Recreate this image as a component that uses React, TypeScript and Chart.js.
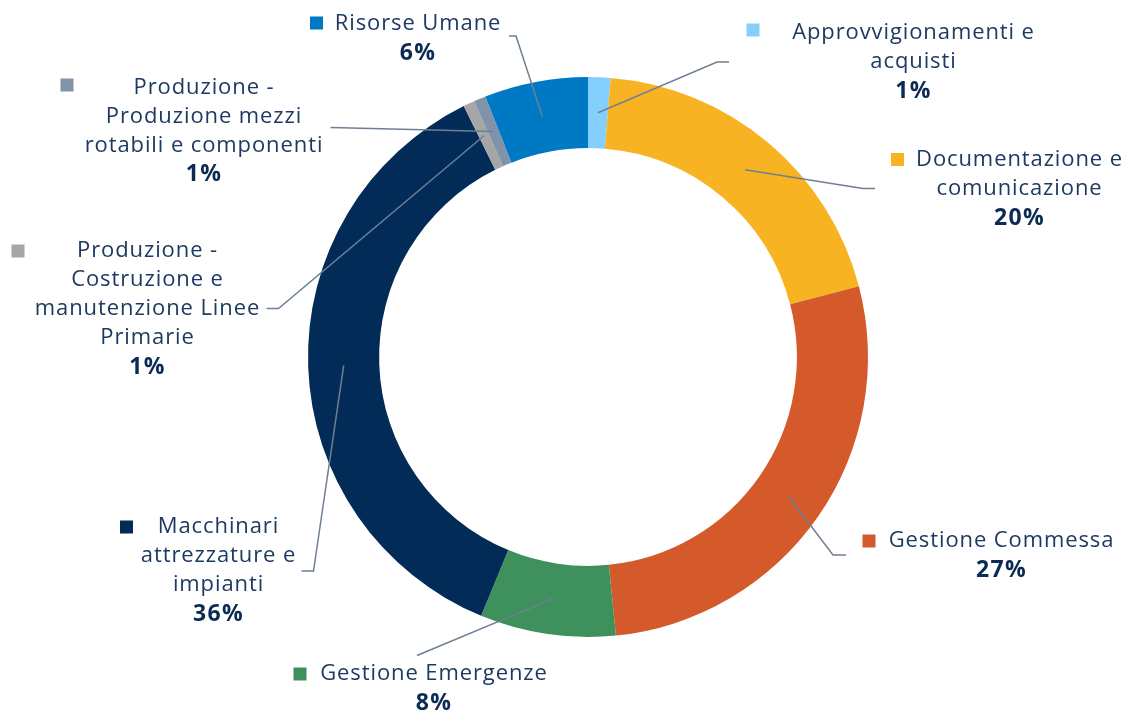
import React, { useEffect, useRef } from 'react';
import { Chart, registerables } from 'chart.js';

Chart.register(...registerables);

// ---- data ----
const categories: string[][] = [
  ['Approvvigionamenti e', 'acquisti'],
  ['Documentazione e', 'comunicazione'],
  ['Gestione Commessa'],
  ['Gestione Emergenze'],
  ['Macchinari', 'attrezzature e', 'impianti'],
  ['Produzione -', 'Costruzione e', 'manutenzione Linee', 'Primarie'],
  ['Produzione -', 'Produzione mezzi', 'rotabili e componenti'],
  ['Risorse Umane'],
];
const values: number[] = [1.29, 19.64, 27.48, 7.82, 36.45, 0.65, 0.7, 5.97];
const colors: string[] = ['#85CFFC', '#F8B322', '#D45A2B', '#3E915D', '#022C57', '#A6A6A6', '#8093A8', '#0079C4'];

// ---- label layout (positions only) ----
type Pt = [number, number];
interface LabelPos { cx: number; y: number; mx: number; my: number; leader: Pt[] }
const labelLayout: LabelPos[] = [
  { cx: 913.5, y: 33, mx: 753, my: 30, leader: [[729, 62], [717, 62]] },
  { cx: 1019.5, y: 160, mx: 897.5, my: 159.5, leader: [[875, 188.5], [863, 188.5]] },
  { cx: 1001.5, y: 541, mx: 869, my: 541, leader: [[846, 555], [833, 555]] },
  { cx: 434, y: 674, mx: 300, my: 674, leader: [[417, 655.5]] },
  { cx: 218.5, y: 527, mx: 126.5, my: 527, leader: [[301.5, 571], [313.5, 571]] },
  { cx: 147.5, y: 251, mx: 18, my: 251, leader: [[266.5, 308.5], [278.5, 308.5]] },
  { cx: 204, y: 87.5, mx: 67, my: 85, leader: [[330.5, 127.5]] },
  { cx: 418, y: 24, mx: 316.5, my: 23, leader: [[509, 36], [516, 36]] },
];

const LINE_H = 29;
const NAME_FONT = '400 22px "Open Sans", "Noto Sans", sans-serif';
const PCT_FONT = '700 23px "Open Sans", "Noto Sans", sans-serif';
const NAME_COLOR = '#1E3A62';
const PCT_COLOR = '#0C2B53';
const LEADER_COLOR = '#6E7F94';

const labelPlugin = {
  id: 'outerLabels',
  afterDatasetsDraw(chart: any) {
    const ctx: CanvasRenderingContext2D = chart.ctx;
    const meta = chart.getDatasetMeta(0);
    const total = values.reduce((a, b) => a + b, 0);
    meta.data.forEach((arc: any, i: number) => {
      const p = arc.getProps(['x', 'y', 'startAngle', 'endAngle', 'innerRadius', 'outerRadius'], true);
      const mid = (p.startAngle + p.endAngle) / 2;
      const r = (p.innerRadius + p.outerRadius) / 2;
      const ex = p.x + Math.cos(mid) * r;
      const ey = p.y + Math.sin(mid) * r;
      const lay = labelLayout[i];
      ctx.save();
      // leader
      ctx.strokeStyle = LEADER_COLOR;
      ctx.lineWidth = 1.5;
      ctx.beginPath();
      lay.leader.forEach((pt, k) => (k === 0 ? ctx.moveTo(pt[0], pt[1]) : ctx.lineTo(pt[0], pt[1])));
      ctx.lineTo(ex, ey);
      ctx.stroke();
      // marker
      ctx.fillStyle = colors[i];
      ctx.fillRect(lay.mx - 6.5, lay.my - 6.5, 13, 13);
      // text
      ctx.textAlign = 'center';
      ctx.textBaseline = 'middle';
      (ctx as any).letterSpacing = '0.9px';
      ctx.font = NAME_FONT;
      ctx.fillStyle = NAME_COLOR;
      const lines = categories[i];
      lines.forEach((ln, k) => ctx.fillText(ln, lay.cx, lay.y + k * LINE_H));
      ctx.font = PCT_FONT;
      ctx.fillStyle = PCT_COLOR;
      (ctx as any).letterSpacing = '1.3px';
      const pct = Math.round((values[i] / total) * 100) + '%';
      ctx.fillText(pct, lay.cx, lay.y + lines.length * LINE_H);
      ctx.restore();
    });
  },
};

export default function App() {
  const ref = useRef<HTMLCanvasElement | null>(null);
  useEffect(() => {
    if (!ref.current) return;
    const chart = new Chart(ref.current, {
      type: 'doughnut',
      data: {
        labels: categories,
        datasets: [
          {
            data: values,
            backgroundColor: colors,
            borderWidth: 0,
          },
        ],
      },
      options: {
        animation: false,
        responsive: false,
        cutout: '74.6%',
        layout: { padding: { left: 308, right: 257, top: 77, bottom: 76 } },
        plugins: {
          legend: { display: false },
          tooltip: { enabled: false },
        },
      },
      plugins: [labelPlugin],
    });
    return () => chart.destroy();
  }, []);
  return (
    <div style={{ position: 'absolute', left: 0, top: 0, width: 1125, height: 713, background: '#fff' }}>
      <canvas ref={ref} width={1125} height={713} style={{ display: 'block' }} />
    </div>
  );
}
